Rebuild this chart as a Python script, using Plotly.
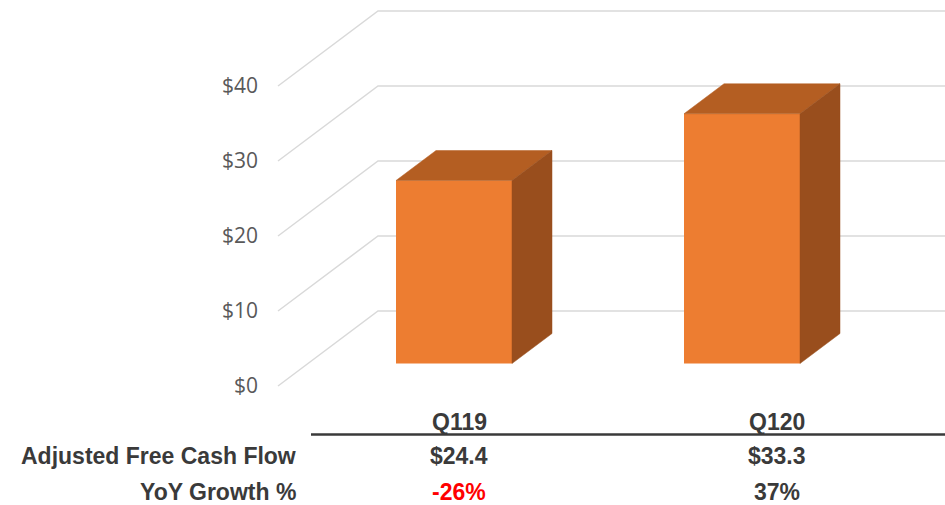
import plotly.graph_objects as go

# ---- data ----
quarters = ["Q119", "Q120"]
fcf = [24.4, 33.3]            # adjusted free cash flow ($)
yoy_growth = [-26, 37]        # year-over-year growth (%)
y_ticks = [0, 10, 20, 30, 40]
row_labels = ["Adjusted Free Cash Flow", "YoY Growth %"]

# ---- layout geometry ----
W, H = 945, 505
PLOT_LEFT = 265                  # left edge of plot area (px)
PX_PER_CAT = 288.0               # horizontal px per category step
PX_PER_UNIT = 7.5                # vertical px per $1
CAT0_PX = 454.0                  # px position of first bar centre
ZERO_PX = 386.0                  # px height of $0 on the front wall edge

X_MIN = (PLOT_LEFT - CAT0_PX) / PX_PER_CAT
X_MAX = (W - CAT0_PX) / PX_PER_CAT
Y_TOP = ZERO_PX / PX_PER_UNIT
Y_BOT = -(H - ZERO_PX) / PX_PER_UNIT

# depth projection: moving from floor front (t=0) to back wall (t=1)
DEPTH_DX = 100.0 / PX_PER_CAT    # x shift (data units) per unit depth
DEPTH_DY = 75.0 / PX_PER_UNIT    # y shift (data units) per unit depth
WALL_X0 = (278.0 - CAT0_PX) / PX_PER_CAT
T_FRONT, T_BACK = 0.30, 0.70     # bar placement in depth
BAR_W = 116.0 / PX_PER_CAT

FRONT_C = "#ED7D31"
TOP_C = "#B45E22"
SIDE_C = "#994E1D"
GRID_C = "#D9D9D9"
TEXT_C = "#3A3A3A"

fig = go.Figure()

# wall gridlines: front diagonal then back-wall horizontal
gx, gy = [], []
for v in y_ticks:
    gx += [WALL_X0, WALL_X0 + DEPTH_DX, X_MAX + 0.1, None]
    gy += [v, v + DEPTH_DY, v + DEPTH_DY, None]
fig.add_trace(go.Scatter(x=gx, y=gy, mode="lines",
                         line=dict(color=GRID_C, width=1.5),
                         hoverinfo="skip", showlegend=False,
                         xaxis="x", yaxis="y"))

# bars: front faces on the front-plane axis (y2)
fig.add_trace(go.Bar(x=list(range(len(quarters))), y=fcf, width=BAR_W,
                     marker=dict(color=FRONT_C, line=dict(width=0)),
                     hoverinfo="skip", showlegend=False,
                     xaxis="x", yaxis="y2"))

ddx = (T_BACK - T_FRONT) * DEPTH_DX
ddy = (T_BACK - T_FRONT) * DEPTH_DY
for i, v in enumerate(fcf):
    xl, xr = i - BAR_W / 2, i + BAR_W / 2
    # top face
    fig.add_trace(go.Scatter(
        x=[xl, xr, xr + ddx, xl + ddx, xl],
        y=[v, v, v + ddy, v + ddy, v],
        mode="lines", fill="toself", fillcolor=TOP_C,
        line=dict(color=TOP_C, width=0.5),
        hoverinfo="skip", showlegend=False, xaxis="x", yaxis="y2"))
    # side face
    fig.add_trace(go.Scatter(
        x=[xr, xr, xr + ddx, xr + ddx, xr],
        y=[0, v, v + ddy, ddy, 0],
        mode="lines", fill="toself", fillcolor=SIDE_C,
        line=dict(color=SIDE_C, width=0.5),
        hoverinfo="skip", showlegend=False, xaxis="x", yaxis="y2"))

# ---- data table below the chart ----
def px_x(px):
    return (px - PLOT_LEFT) / (W - PLOT_LEFT)

def px_y(py):
    return (H - py) / H

col_px = [459, 777]
header_py, row_py = 422, [456, 492]
label_right_px = 298
tfont = dict(family="Liberation Sans, Arial, sans-serif", size=23, color=TEXT_C)

ann = []
for q, cx in zip(quarters, col_px):
    ann.append(dict(text=f"<b>{q}</b>", x=px_x(cx), y=px_y(header_py),
                    xref="paper", yref="paper", showarrow=False,
                    xanchor="center", yanchor="middle", font=tfont))
for lab, ry in zip(row_labels, row_py):
    ann.append(dict(text=f"<b>{lab}</b>", x=px_x(label_right_px), y=px_y(ry),
                    xref="paper", yref="paper", showarrow=False,
                    xanchor="right", yanchor="middle", font=tfont))
for v, g, cx in zip(fcf, yoy_growth, col_px):
    ann.append(dict(text=f"<b>${v:.1f}</b>", x=px_x(cx), y=px_y(row_py[0]),
                    xref="paper", yref="paper", showarrow=False,
                    xanchor="center", yanchor="middle", font=tfont))
    gfont = dict(tfont, color="#FF0000" if g < 0 else TEXT_C)
    ann.append(dict(text=f"<b>{g}%</b>", x=px_x(cx), y=px_y(row_py[1]),
                    xref="paper", yref="paper", showarrow=False,
                    xanchor="center", yanchor="middle", font=gfont))

fig.update_layout(
    width=W, height=H,
    margin=dict(l=PLOT_LEFT, r=0, t=0, b=0),
    paper_bgcolor="white", plot_bgcolor="white",
    showlegend=False,
    xaxis=dict(range=[X_MIN, X_MAX], visible=False, fixedrange=True),
    yaxis=dict(range=[Y_BOT, Y_TOP], tickvals=y_ticks,
               ticktext=[f"${t}" for t in y_ticks],
               showgrid=False, zeroline=False, showline=False, ticks="",
               tickfont=dict(family="Open Sans, sans-serif", size=21,
                             color="#595959"),
               ticklabelstandoff=6, fixedrange=True),
    yaxis2=dict(range=[Y_BOT - T_FRONT * DEPTH_DY, Y_TOP - T_FRONT * DEPTH_DY],
                overlaying="y", visible=False, fixedrange=True),
    annotations=ann,
    shapes=[dict(type="line", xref="paper", yref="paper",
                 x0=px_x(311), x1=1.0, y0=px_y(434.5), y1=px_y(434.5),
                 line=dict(color=TEXT_C, width=2.5))],
)

fig.write_html("out.html")
